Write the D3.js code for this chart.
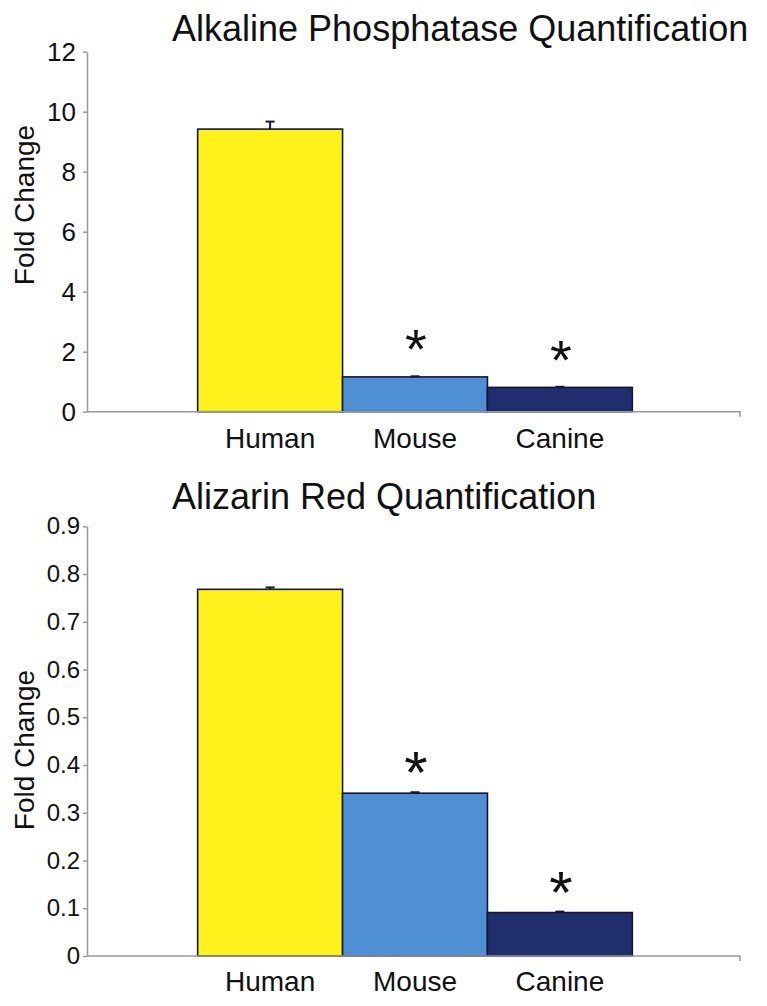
<!DOCTYPE html>
<html>
<head>
<meta charset="utf-8">
<script src="https://cdn.jsdelivr.net/npm/d3@7"></script>
<style>
  html, body { margin: 0; padding: 0; background: #fff; }
  svg { display: block; }
  text { font-family: "Liberation Sans", Arial, sans-serif; fill: #111; }
</style>
</head>
<body>
<svg id="chart" width="767" height="1006"></svg>
<script>
// ---- data ----
const categories = ["Human", "Mouse", "Canine"];
const significant = [false, true, true];

const alpTitle = "Alkaline Phosphatase Quantification";
const alpValues = [9.42, 1.16, 0.81];
const alpErrors = [0.25, 0.02, 0.02];
const alpTicks = [0, 2, 4, 6, 8, 10, 12];

const arsTitle = "Alizarin Red Quantification";
const arsValues = [0.768, 0.341, 0.091];
const arsErrors = [0.004, 0.002, 0.002];
const arsTicks = [0, 0.1, 0.2, 0.3, 0.4, 0.5, 0.6, 0.7, 0.8, 0.9];

const yLabel = "Fold Change";
const barColors = ["#fff21c", "#4f90d4", "#1f2f6d"];

// ---- drawing ----
const svg = d3.select("#chart");

function panel(opts) {
  const g = svg.append("g");
  const x = d3.scaleBand().domain(categories)
    .range([89, 741]).paddingInner(0).paddingOuter(0.75);
  const y = d3.scaleLinear().domain(opts.domain).range(opts.yRange);

  const rows = categories.map((c, i) => ({
    cat: c, value: opts.values[i], err: opts.errors[i], sig: significant[i], color: barColors[i]
  }));
  const cx = d => x(d.cat) + x.bandwidth() / 2;

  // title
  g.append("text").attr("x", 172).attr("y", opts.titleY)
    .attr("font-size", 36).text(opts.title);

  // y-axis label
  g.append("text")
    .attr("transform", `translate(34,${opts.labelY}) rotate(-90)`)
    .attr("text-anchor", "middle").attr("font-size", 28).text(yLabel);

  // bars
  g.selectAll("rect.bar").data(rows).join("rect")
    .attr("class", "bar")
    .attr("x", d => x(d.cat))
    .attr("width", x.bandwidth())
    .attr("y", d => y(d.value))
    .attr("height", d => y(0) - y(d.value))
    .attr("fill", d => d.color)
    .attr("stroke", "#15153a").attr("stroke-width", 1.6);

  // error bars
  const eb = g.selectAll("g.err").data(rows).join("g").attr("class", "err");
  eb.append("line")
    .attr("x1", cx).attr("x2", cx)
    .attr("y1", d => y(d.value))
    .attr("y2", d => y(d.value + d.err))
    .attr("stroke", "#15153a").attr("stroke-width", 2);
  eb.append("line")
    .attr("x1", d => cx(d) - 4.5).attr("x2", d => cx(d) + 4.5)
    .attr("y1", d => y(d.value + d.err))
    .attr("y2", d => y(d.value + d.err))
    .attr("stroke", "#15153a").attr("stroke-width", 2);

  // significance asterisks
  g.selectAll("text.sig").data(rows.filter(d => d.sig)).join("text")
    .attr("class", "sig")
    .attr("x", d => cx(d) + 1)
    .attr("y", d => y(d.value + d.err) - opts.starGap)
    .attr("text-anchor", "middle")
    .attr("font-size", opts.starSize)
    .text("*");

  // y axis
  const yAxis = d3.axisLeft(y).tickValues(opts.ticks)
    .tickSize(4).tickSizeOuter(0).tickPadding(opts.tickPad)
    .tickFormat(opts.fmt);
  const ya = g.append("g").attr("transform", "translate(87,0)").call(yAxis);
  ya.select(".domain").attr("stroke", "#9a9a9a").attr("stroke-width", 1.5);
  ya.selectAll(".tick line").attr("stroke", "#9a9a9a").attr("stroke-width", 1.5);
  ya.selectAll(".tick text").attr("font-size", opts.tickFont)
    .attr("font-family", "Liberation Sans, Arial, sans-serif").attr("fill", "#111");

  // x axis (baseline + category labels)
  const xAxis = d3.axisBottom(x).tickSize(0).tickSizeOuter(0).tickPadding(opts.catPad);
  const xa = g.append("g").attr("transform", `translate(0,${y(0)})`).call(xAxis);
  xa.select(".domain").remove();
  xa.selectAll(".tick text").attr("font-size", 28)
    .attr("font-family", "Liberation Sans, Arial, sans-serif").attr("fill", "#111");
  g.append("path")
    .attr("d", `M87,${y(0)}H740V${y(0) + 5}`)
    .attr("fill", "none").attr("stroke", "#9a9a9a").attr("stroke-width", 1.5);
}

panel({
  title: alpTitle, titleY: 41, labelY: 205,
  values: alpValues, errors: alpErrors, ticks: alpTicks,
  domain: [0, 12], yRange: [411.7, 51.7],
  fmt: d3.format("d"), tickFont: 26, tickPad: 7, catPad: 16,
  starGap: 8, starSize: 56
});

panel({
  title: arsTitle, titleY: 509, labelY: 750,
  values: arsValues, errors: arsErrors, ticks: arsTicks,
  domain: [0, 0.9], yRange: [956, 526.3],
  fmt: d => d === 0 ? "0" : d3.format(".1f")(d), tickFont: 24, tickPad: 3, catPad: 15,
  starGap: -1, starSize: 60
});
</script>
</body>
</html>
